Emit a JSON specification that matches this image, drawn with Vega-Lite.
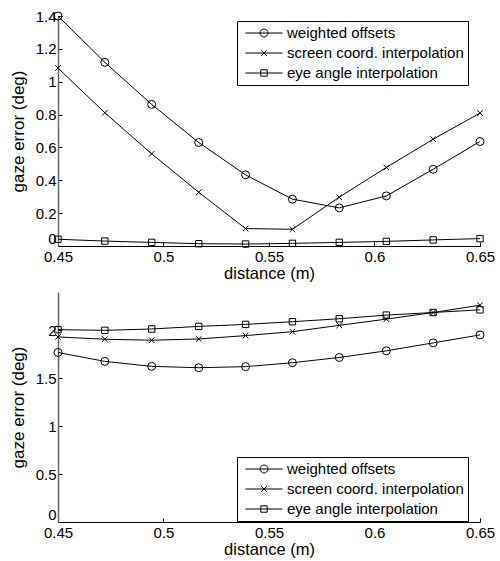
{
  "$schema": "https://vega.github.io/schema/vega-lite/v6.json",
  "padding": {"left": 9, "top": 9, "right": 5, "bottom": 5},
  "bounds": "flush",
  "spacing": 46,
  "config": {
    "font": "Liberation Sans",
    "view": {"stroke": null},
    "axis": {
      "grid": false,
      "labelFont": "Liberation Sans",
      "titleFont": "Liberation Sans",
      "labelFontSize": 15,
      "labelColor": "black",
      "titleColor": "black",
      "titleFontWeight": "normal",
      "tickColor": "black",
      "tickWidth": 1,
      "tickSize": -4,
      "labelFlush": false,
      "labelOverlap": false
    },
    "axisX": {"domainColor": "black", "domainWidth": 1, "labelPadding": 7, "titlePadding": 1, "titleFontSize": 16.5},
    "axisY": {"domainColor": "#666", "domainWidth": 1.5, "labelPadding": 6, "titlePadding": 8, "titleFontSize": 17,
              "labelBaseline": {"condition": {"test": "datum.value === 0", "value": "bottom"}, "value": "middle"}},
    "legend": {
      "orient": "none",
      "title": null,
      "strokeColor": "black",
      "fillColor": "white",
      "padding": 4,
      "symbolSize": 225,
      "labelOffset": 30,
      "labelFontSize": 15,
      "labelLimit": 400,
      "labelFont": "Liberation Sans",
      "labelColor": "black",
      "rowPadding": 4,
      "symbolStrokeWidth": 1,
      "symbolStrokeColor": "black",
      "symbolFillColor": "transparent",
      "cornerRadius": 0
    }
  },
  "datasets": {
    "top": [
      {"series": "weighted offsets", "d": 0.45, "err": 1.40},
      {"series": "weighted offsets", "d": 0.4722, "err": 1.118},
      {"series": "weighted offsets", "d": 0.4944, "err": 0.862},
      {"series": "weighted offsets", "d": 0.5167, "err": 0.630},
      {"series": "weighted offsets", "d": 0.5389, "err": 0.433},
      {"series": "weighted offsets", "d": 0.5611, "err": 0.285},
      {"series": "weighted offsets", "d": 0.5833, "err": 0.232},
      {"series": "weighted offsets", "d": 0.6056, "err": 0.305},
      {"series": "weighted offsets", "d": 0.6278, "err": 0.467},
      {"series": "weighted offsets", "d": 0.65, "err": 0.636},
      {"series": "screen coord. interpolation", "d": 0.45, "err": 1.083},
      {"series": "screen coord. interpolation", "d": 0.4722, "err": 0.811},
      {"series": "screen coord. interpolation", "d": 0.4944, "err": 0.561},
      {"series": "screen coord. interpolation", "d": 0.5167, "err": 0.327},
      {"series": "screen coord. interpolation", "d": 0.5389, "err": 0.106},
      {"series": "screen coord. interpolation", "d": 0.5611, "err": 0.102},
      {"series": "screen coord. interpolation", "d": 0.5833, "err": 0.297},
      {"series": "screen coord. interpolation", "d": 0.6056, "err": 0.478},
      {"series": "screen coord. interpolation", "d": 0.6278, "err": 0.650},
      {"series": "screen coord. interpolation", "d": 0.65, "err": 0.809},
      {"series": "eye angle interpolation", "d": 0.45, "err": 0.041},
      {"series": "eye angle interpolation", "d": 0.4722, "err": 0.030},
      {"series": "eye angle interpolation", "d": 0.4944, "err": 0.022},
      {"series": "eye angle interpolation", "d": 0.5167, "err": 0.014},
      {"series": "eye angle interpolation", "d": 0.5389, "err": 0.012},
      {"series": "eye angle interpolation", "d": 0.5611, "err": 0.016},
      {"series": "eye angle interpolation", "d": 0.5833, "err": 0.022},
      {"series": "eye angle interpolation", "d": 0.6056, "err": 0.028},
      {"series": "eye angle interpolation", "d": 0.6278, "err": 0.037},
      {"series": "eye angle interpolation", "d": 0.65, "err": 0.045}
    ],
    "bottom": [
      {"series": "weighted offsets", "d": 0.45, "err": 1.769},
      {"series": "weighted offsets", "d": 0.4722, "err": 1.676},
      {"series": "weighted offsets", "d": 0.4944, "err": 1.624},
      {"series": "weighted offsets", "d": 0.5167, "err": 1.610},
      {"series": "weighted offsets", "d": 0.5389, "err": 1.621},
      {"series": "weighted offsets", "d": 0.5611, "err": 1.662},
      {"series": "weighted offsets", "d": 0.5833, "err": 1.717},
      {"series": "weighted offsets", "d": 0.6056, "err": 1.786},
      {"series": "weighted offsets", "d": 0.6278, "err": 1.869},
      {"series": "weighted offsets", "d": 0.65, "err": 1.952},
      {"series": "screen coord. interpolation", "d": 0.45, "err": 1.931},
      {"series": "screen coord. interpolation", "d": 0.4722, "err": 1.907},
      {"series": "screen coord. interpolation", "d": 0.4944, "err": 1.897},
      {"series": "screen coord. interpolation", "d": 0.5167, "err": 1.910},
      {"series": "screen coord. interpolation", "d": 0.5389, "err": 1.945},
      {"series": "screen coord. interpolation", "d": 0.5611, "err": 1.986},
      {"series": "screen coord. interpolation", "d": 0.5833, "err": 2.052},
      {"series": "screen coord. interpolation", "d": 0.6056, "err": 2.117},
      {"series": "screen coord. interpolation", "d": 0.6278, "err": 2.186},
      {"series": "screen coord. interpolation", "d": 0.65, "err": 2.262},
      {"series": "eye angle interpolation", "d": 0.45, "err": 2.007},
      {"series": "eye angle interpolation", "d": 0.4722, "err": 2.000},
      {"series": "eye angle interpolation", "d": 0.4944, "err": 2.014},
      {"series": "eye angle interpolation", "d": 0.5167, "err": 2.041},
      {"series": "eye angle interpolation", "d": 0.5389, "err": 2.062},
      {"series": "eye angle interpolation", "d": 0.5611, "err": 2.090},
      {"series": "eye angle interpolation", "d": 0.5833, "err": 2.121},
      {"series": "eye angle interpolation", "d": 0.6056, "err": 2.159},
      {"series": "eye angle interpolation", "d": 0.6278, "err": 2.186},
      {"series": "eye angle interpolation", "d": 0.65, "err": 2.214}
    ]
  },
  "vconcat": [
    {
      "width": 422,
      "height": 230,
      "data": {"name": "top"},
      "encoding": {
        "x": {"field": "d", "type": "quantitative", "scale": {"domain": [0.45, 0.65], "nice": false, "zero": false},
              "axis": {"values": [0.45, 0.5, 0.55, 0.6, 0.65], "format": "~g", "title": "distance (m)"}},
        "y": {"field": "err", "type": "quantitative", "scale": {"domain": [0, 1.4], "nice": false},
              "axis": {"values": [0, 0.2, 0.4, 0.6, 0.8, 1, 1.2, 1.4], "format": "~g", "title": "gaze error (deg)"}}
      },
      "layer": [
        {"mark": {"type": "line", "color": "black", "strokeWidth": 1}, "encoding": {"detail": {"field": "series", "type": "nominal"}}},
        {"mark": {"type": "point", "filled": false, "color": "black", "size": 64, "strokeWidth": 1, "opacity": 1},
         "encoding": {"shape": {"field": "series", "type": "nominal",
           "scale": {"domain": ["weighted offsets", "screen coord. interpolation", "eye angle interpolation"],
                     "range": ["circle", "M-0.7,-0.7L0.7,0.7M-0.7,0.7L0.7,-0.7", "M-0.8,-0.8H0.8V0.8H-0.8Z"]},
           "legend": null}}},
        {"mark": {"type": "point", "filled": false, "color": "black", "opacity": 0},
         "encoding": {"shape": {"field": "series", "type": "nominal",
           "scale": {"domain": ["weighted offsets", "screen coord. interpolation", "eye angle interpolation"],
                     "range": ["M-0.467,0H4.467M1.467,0A0.533,0.533 0 1 0 2.533,0A0.533,0.533 0 1 0 1.467,0",
                               "M-0.467,0H4.467M1.627,-0.373L2.373,0.373M1.627,0.373L2.373,-0.373",
                               "M-0.467,0H4.467M1.573,-0.427H2.427V0.427H1.573Z"]},
           "legend": {"legendX": 179, "legendY": 5,
             "encode": {"symbols": {"update": {"opacity": {"value": 1}, "stroke": {"value": "black"}, "fill": {"value": "transparent"}, "strokeWidth": {"value": 1}}}}}}}}
      ],
      "resolve": {"scale": {"shape": "independent"}}
    },
    {
      "width": 422,
      "height": 230,
      "data": {"name": "bottom"},
      "encoding": {
        "x": {"field": "d", "type": "quantitative", "scale": {"domain": [0.45, 0.65], "nice": false, "zero": false},
              "axis": {"values": [0.45, 0.5, 0.55, 0.6, 0.65], "format": "~g", "title": "distance (m)"}},
        "y": {"field": "err", "type": "quantitative", "scale": {"domain": [0, 2.4], "nice": false},
              "axis": {"values": [0, 0.5, 1, 1.5, 2], "format": "~g", "title": "gaze error (deg)"}}
      },
      "layer": [
        {"mark": {"type": "line", "color": "black", "strokeWidth": 1}, "encoding": {"detail": {"field": "series", "type": "nominal"}}},
        {"mark": {"type": "point", "filled": false, "color": "black", "size": 64, "strokeWidth": 1, "opacity": 1},
         "encoding": {"shape": {"field": "series", "type": "nominal",
           "scale": {"domain": ["weighted offsets", "screen coord. interpolation", "eye angle interpolation"],
                     "range": ["circle", "M-0.7,-0.7L0.7,0.7M-0.7,0.7L0.7,-0.7", "M-0.8,-0.8H0.8V0.8H-0.8Z"]},
           "legend": null}}},
        {"mark": {"type": "point", "filled": false, "color": "black", "opacity": 0},
         "encoding": {"shape": {"field": "series", "type": "nominal",
           "scale": {"domain": ["weighted offsets", "screen coord. interpolation", "eye angle interpolation"],
                     "range": ["M-0.467,0H4.467M1.467,0A0.533,0.533 0 1 0 2.533,0A0.533,0.533 0 1 0 1.467,0",
                               "M-0.467,0H4.467M1.627,-0.373L2.373,0.373M1.627,0.373L2.373,-0.373",
                               "M-0.467,0H4.467M1.573,-0.427H2.427V0.427H1.573Z"]},
           "legend": {"legendX": 179, "legendY": 165,
             "encode": {"symbols": {"update": {"opacity": {"value": 1}, "stroke": {"value": "black"}, "fill": {"value": "transparent"}, "strokeWidth": {"value": 1}}}}}}}}
      ],
      "resolve": {"scale": {"shape": "independent"}}
    }
  ]
}
